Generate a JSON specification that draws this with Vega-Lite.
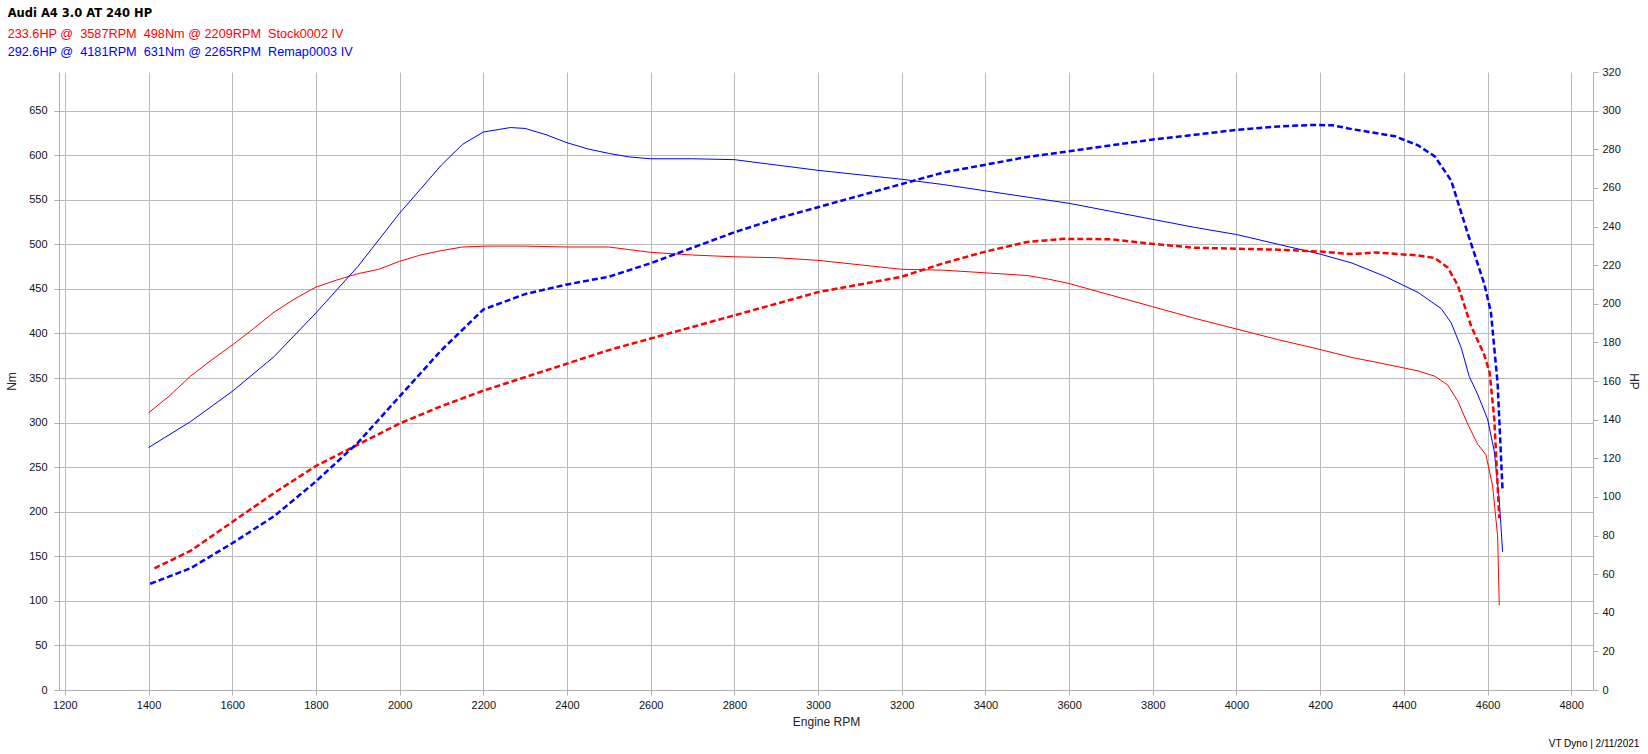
{
  "$schema": "https://vega.github.io/schema/vega-lite/v6.json",
  "background": "white",
  "padding": {"left": 5, "top": 8, "right": 5, "bottom": 5},
  "config": {
    "font": "Liberation Sans",
    "view": {"stroke": null},
    "axis": {
      "labelFont": "Liberation Sans", "labelFontSize": 11, "labelColor": "#111",
      "titleFont": "Liberation Sans", "titleFontSize": 12, "titleFontWeight": "normal", "titleColor": "#222",
      "gridColor": "#bababa", "domainColor": "#b0b0b0", "tickColor": "#b0b0b0", "tickSize": 5
    }
  },
  "datasets": {
    "torque": [
      {"rpm": 1400, "nm": 311, "run": "Stock0002 IV"},
      {"rpm": 1450, "nm": 330, "run": "Stock0002 IV"},
      {"rpm": 1500, "nm": 352, "run": "Stock0002 IV"},
      {"rpm": 1550, "nm": 370, "run": "Stock0002 IV"},
      {"rpm": 1600, "nm": 387, "run": "Stock0002 IV"},
      {"rpm": 1650, "nm": 405, "run": "Stock0002 IV"},
      {"rpm": 1700, "nm": 424, "run": "Stock0002 IV"},
      {"rpm": 1750, "nm": 439, "run": "Stock0002 IV"},
      {"rpm": 1800, "nm": 452, "run": "Stock0002 IV"},
      {"rpm": 1850, "nm": 460, "run": "Stock0002 IV"},
      {"rpm": 1900, "nm": 467, "run": "Stock0002 IV"},
      {"rpm": 1950, "nm": 472, "run": "Stock0002 IV"},
      {"rpm": 2000, "nm": 481, "run": "Stock0002 IV"},
      {"rpm": 2050, "nm": 488, "run": "Stock0002 IV"},
      {"rpm": 2100, "nm": 493, "run": "Stock0002 IV"},
      {"rpm": 2150, "nm": 497, "run": "Stock0002 IV"},
      {"rpm": 2209, "nm": 498, "run": "Stock0002 IV"},
      {"rpm": 2300, "nm": 498, "run": "Stock0002 IV"},
      {"rpm": 2400, "nm": 497, "run": "Stock0002 IV"},
      {"rpm": 2450, "nm": 497, "run": "Stock0002 IV"},
      {"rpm": 2500, "nm": 497, "run": "Stock0002 IV"},
      {"rpm": 2550, "nm": 494, "run": "Stock0002 IV"},
      {"rpm": 2600, "nm": 491, "run": "Stock0002 IV"},
      {"rpm": 2700, "nm": 488, "run": "Stock0002 IV"},
      {"rpm": 2800, "nm": 486, "run": "Stock0002 IV"},
      {"rpm": 2900, "nm": 485, "run": "Stock0002 IV"},
      {"rpm": 3000, "nm": 482, "run": "Stock0002 IV"},
      {"rpm": 3100, "nm": 477, "run": "Stock0002 IV"},
      {"rpm": 3200, "nm": 472, "run": "Stock0002 IV"},
      {"rpm": 3300, "nm": 471, "run": "Stock0002 IV"},
      {"rpm": 3400, "nm": 468, "run": "Stock0002 IV"},
      {"rpm": 3500, "nm": 465, "run": "Stock0002 IV"},
      {"rpm": 3550, "nm": 461, "run": "Stock0002 IV"},
      {"rpm": 3600, "nm": 456, "run": "Stock0002 IV"},
      {"rpm": 3700, "nm": 443, "run": "Stock0002 IV"},
      {"rpm": 3800, "nm": 430, "run": "Stock0002 IV"},
      {"rpm": 3900, "nm": 417, "run": "Stock0002 IV"},
      {"rpm": 4000, "nm": 405, "run": "Stock0002 IV"},
      {"rpm": 4100, "nm": 393, "run": "Stock0002 IV"},
      {"rpm": 4200, "nm": 382, "run": "Stock0002 IV"},
      {"rpm": 4276, "nm": 373, "run": "Stock0002 IV"},
      {"rpm": 4331, "nm": 368, "run": "Stock0002 IV"},
      {"rpm": 4434, "nm": 358, "run": "Stock0002 IV"},
      {"rpm": 4474, "nm": 352, "run": "Stock0002 IV"},
      {"rpm": 4505, "nm": 342, "run": "Stock0002 IV"},
      {"rpm": 4529, "nm": 324, "run": "Stock0002 IV"},
      {"rpm": 4553, "nm": 298, "run": "Stock0002 IV"},
      {"rpm": 4576, "nm": 276, "run": "Stock0002 IV"},
      {"rpm": 4596, "nm": 264, "run": "Stock0002 IV"},
      {"rpm": 4612, "nm": 229, "run": "Stock0002 IV"},
      {"rpm": 4624, "nm": 173, "run": "Stock0002 IV"},
      {"rpm": 4628, "nm": 95, "run": "Stock0002 IV"},
      {"rpm": 1400, "nm": 272, "run": "Remap0003 IV"},
      {"rpm": 1500, "nm": 301, "run": "Remap0003 IV"},
      {"rpm": 1600, "nm": 335, "run": "Remap0003 IV"},
      {"rpm": 1700, "nm": 374, "run": "Remap0003 IV"},
      {"rpm": 1800, "nm": 423, "run": "Remap0003 IV"},
      {"rpm": 1900, "nm": 475, "run": "Remap0003 IV"},
      {"rpm": 2000, "nm": 535, "run": "Remap0003 IV"},
      {"rpm": 2050, "nm": 562, "run": "Remap0003 IV"},
      {"rpm": 2100, "nm": 589, "run": "Remap0003 IV"},
      {"rpm": 2150, "nm": 612, "run": "Remap0003 IV"},
      {"rpm": 2200, "nm": 626, "run": "Remap0003 IV"},
      {"rpm": 2265, "nm": 631, "run": "Remap0003 IV"},
      {"rpm": 2300, "nm": 630, "run": "Remap0003 IV"},
      {"rpm": 2350, "nm": 623, "run": "Remap0003 IV"},
      {"rpm": 2400, "nm": 614, "run": "Remap0003 IV"},
      {"rpm": 2450, "nm": 607, "run": "Remap0003 IV"},
      {"rpm": 2500, "nm": 602, "run": "Remap0003 IV"},
      {"rpm": 2550, "nm": 598, "run": "Remap0003 IV"},
      {"rpm": 2600, "nm": 596, "run": "Remap0003 IV"},
      {"rpm": 2700, "nm": 596, "run": "Remap0003 IV"},
      {"rpm": 2800, "nm": 595, "run": "Remap0003 IV"},
      {"rpm": 2900, "nm": 589, "run": "Remap0003 IV"},
      {"rpm": 3000, "nm": 583, "run": "Remap0003 IV"},
      {"rpm": 3100, "nm": 578, "run": "Remap0003 IV"},
      {"rpm": 3200, "nm": 573, "run": "Remap0003 IV"},
      {"rpm": 3300, "nm": 567, "run": "Remap0003 IV"},
      {"rpm": 3400, "nm": 560, "run": "Remap0003 IV"},
      {"rpm": 3500, "nm": 553, "run": "Remap0003 IV"},
      {"rpm": 3600, "nm": 546, "run": "Remap0003 IV"},
      {"rpm": 3700, "nm": 537, "run": "Remap0003 IV"},
      {"rpm": 3800, "nm": 528, "run": "Remap0003 IV"},
      {"rpm": 3900, "nm": 519, "run": "Remap0003 IV"},
      {"rpm": 4000, "nm": 511, "run": "Remap0003 IV"},
      {"rpm": 4100, "nm": 500, "run": "Remap0003 IV"},
      {"rpm": 4200, "nm": 489, "run": "Remap0003 IV"},
      {"rpm": 4276, "nm": 479, "run": "Remap0003 IV"},
      {"rpm": 4355, "nm": 464, "run": "Remap0003 IV"},
      {"rpm": 4434, "nm": 446, "run": "Remap0003 IV"},
      {"rpm": 4489, "nm": 428, "run": "Remap0003 IV"},
      {"rpm": 4513, "nm": 412, "run": "Remap0003 IV"},
      {"rpm": 4537, "nm": 384, "run": "Remap0003 IV"},
      {"rpm": 4556, "nm": 352, "run": "Remap0003 IV"},
      {"rpm": 4576, "nm": 332, "run": "Remap0003 IV"},
      {"rpm": 4600, "nm": 304, "run": "Remap0003 IV"},
      {"rpm": 4616, "nm": 268, "run": "Remap0003 IV"},
      {"rpm": 4628, "nm": 213, "run": "Remap0003 IV"},
      {"rpm": 4636, "nm": 155, "run": "Remap0003 IV"}
    ],
    "power": [
      {"rpm": 1414, "hp": 63, "run": "Stock0002 IV"},
      {"rpm": 1500, "hp": 72, "run": "Stock0002 IV"},
      {"rpm": 1600, "hp": 87, "run": "Stock0002 IV"},
      {"rpm": 1700, "hp": 102, "run": "Stock0002 IV"},
      {"rpm": 1800, "hp": 116, "run": "Stock0002 IV"},
      {"rpm": 1900, "hp": 127, "run": "Stock0002 IV"},
      {"rpm": 2000, "hp": 138, "run": "Stock0002 IV"},
      {"rpm": 2100, "hp": 147, "run": "Stock0002 IV"},
      {"rpm": 2200, "hp": 155, "run": "Stock0002 IV"},
      {"rpm": 2300, "hp": 162, "run": "Stock0002 IV"},
      {"rpm": 2400, "hp": 169, "run": "Stock0002 IV"},
      {"rpm": 2500, "hp": 176, "run": "Stock0002 IV"},
      {"rpm": 2600, "hp": 182, "run": "Stock0002 IV"},
      {"rpm": 2700, "hp": 188, "run": "Stock0002 IV"},
      {"rpm": 2800, "hp": 194, "run": "Stock0002 IV"},
      {"rpm": 2900, "hp": 200, "run": "Stock0002 IV"},
      {"rpm": 3000, "hp": 206, "run": "Stock0002 IV"},
      {"rpm": 3100, "hp": 210, "run": "Stock0002 IV"},
      {"rpm": 3200, "hp": 214, "run": "Stock0002 IV"},
      {"rpm": 3300, "hp": 221, "run": "Stock0002 IV"},
      {"rpm": 3400, "hp": 227, "run": "Stock0002 IV"},
      {"rpm": 3500, "hp": 232, "run": "Stock0002 IV"},
      {"rpm": 3587, "hp": 233.6, "run": "Stock0002 IV"},
      {"rpm": 3700, "hp": 233.4, "run": "Stock0002 IV"},
      {"rpm": 3800, "hp": 231, "run": "Stock0002 IV"},
      {"rpm": 3900, "hp": 229, "run": "Stock0002 IV"},
      {"rpm": 4000, "hp": 228.5, "run": "Stock0002 IV"},
      {"rpm": 4100, "hp": 228, "run": "Stock0002 IV"},
      {"rpm": 4200, "hp": 227, "run": "Stock0002 IV"},
      {"rpm": 4276, "hp": 225.7, "run": "Stock0002 IV"},
      {"rpm": 4331, "hp": 226.6, "run": "Stock0002 IV"},
      {"rpm": 4434, "hp": 225, "run": "Stock0002 IV"},
      {"rpm": 4474, "hp": 223.7, "run": "Stock0002 IV"},
      {"rpm": 4505, "hp": 218.7, "run": "Stock0002 IV"},
      {"rpm": 4529, "hp": 209.5, "run": "Stock0002 IV"},
      {"rpm": 4561, "hp": 188.3, "run": "Stock0002 IV"},
      {"rpm": 4592, "hp": 173.6, "run": "Stock0002 IV"},
      {"rpm": 4605, "hp": 164.4, "run": "Stock0002 IV"},
      {"rpm": 4616, "hp": 140.5, "run": "Stock0002 IV"},
      {"rpm": 4628, "hp": 89, "run": "Stock0002 IV"},
      {"rpm": 1404, "hp": 55, "run": "Remap0003 IV"},
      {"rpm": 1500, "hp": 63, "run": "Remap0003 IV"},
      {"rpm": 1600, "hp": 76, "run": "Remap0003 IV"},
      {"rpm": 1700, "hp": 90, "run": "Remap0003 IV"},
      {"rpm": 1800, "hp": 108, "run": "Remap0003 IV"},
      {"rpm": 1900, "hp": 128, "run": "Remap0003 IV"},
      {"rpm": 2000, "hp": 152, "run": "Remap0003 IV"},
      {"rpm": 2100, "hp": 176, "run": "Remap0003 IV"},
      {"rpm": 2200, "hp": 197, "run": "Remap0003 IV"},
      {"rpm": 2300, "hp": 205, "run": "Remap0003 IV"},
      {"rpm": 2400, "hp": 210, "run": "Remap0003 IV"},
      {"rpm": 2500, "hp": 214, "run": "Remap0003 IV"},
      {"rpm": 2600, "hp": 221, "run": "Remap0003 IV"},
      {"rpm": 2700, "hp": 229, "run": "Remap0003 IV"},
      {"rpm": 2800, "hp": 237, "run": "Remap0003 IV"},
      {"rpm": 2900, "hp": 244, "run": "Remap0003 IV"},
      {"rpm": 3000, "hp": 250, "run": "Remap0003 IV"},
      {"rpm": 3100, "hp": 256, "run": "Remap0003 IV"},
      {"rpm": 3200, "hp": 262, "run": "Remap0003 IV"},
      {"rpm": 3300, "hp": 268, "run": "Remap0003 IV"},
      {"rpm": 3400, "hp": 272, "run": "Remap0003 IV"},
      {"rpm": 3500, "hp": 276, "run": "Remap0003 IV"},
      {"rpm": 3600, "hp": 279, "run": "Remap0003 IV"},
      {"rpm": 3700, "hp": 282, "run": "Remap0003 IV"},
      {"rpm": 3800, "hp": 285, "run": "Remap0003 IV"},
      {"rpm": 3900, "hp": 287.5, "run": "Remap0003 IV"},
      {"rpm": 4000, "hp": 290, "run": "Remap0003 IV"},
      {"rpm": 4100, "hp": 291.8, "run": "Remap0003 IV"},
      {"rpm": 4181, "hp": 292.6, "run": "Remap0003 IV"},
      {"rpm": 4230, "hp": 292.4, "run": "Remap0003 IV"},
      {"rpm": 4276, "hp": 290.4, "run": "Remap0003 IV"},
      {"rpm": 4379, "hp": 286.7, "run": "Remap0003 IV"},
      {"rpm": 4434, "hp": 282, "run": "Remap0003 IV"},
      {"rpm": 4474, "hp": 276.3, "run": "Remap0003 IV"},
      {"rpm": 4513, "hp": 263.8, "run": "Remap0003 IV"},
      {"rpm": 4553, "hp": 236.2, "run": "Remap0003 IV"},
      {"rpm": 4592, "hp": 210.4, "run": "Remap0003 IV"},
      {"rpm": 4608, "hp": 195.7, "run": "Remap0003 IV"},
      {"rpm": 4624, "hp": 158.9, "run": "Remap0003 IV"},
      {"rpm": 4636, "hp": 102.8, "run": "Remap0003 IV"}
    ]
  },
  "title": {
    "text": "Audi A4 3.0 AT 240 HP",
    "subtitle": "233.6HP @\u00a0 3587RPM\u00a0 498Nm @ 2209RPM\u00a0 Stock0002 IV",
    "anchor": "start", "frame": "bounds",
    "font": "DejaVu Sans", "fontSize": 11.5, "fontWeight": "bold", "color": "#000000",
    "subtitleFont": "Liberation Sans", "subtitleFontSize": 12.7, "subtitleColor": "#ff0000",
    "subtitlePadding": 8, "offset": 6, "dx": 2
  },
  "vconcat": [
    {
      "title": {"text": "VT Dyno | 2/11/2021", "orient": "bottom", "anchor": "end", "font": "Liberation Sans", "fontSize": 10, "fontWeight": "normal", "color": "#000000", "offset": 12},
      "vconcat": [
        {
          "title": {"text": "292.6HP @\u00a0 4181RPM\u00a0 631Nm @ 2265RPM\u00a0 Remap0003 IV", "anchor": "start", "frame": "bounds", "font": "Liberation Sans", "fontSize": 12.7, "fontWeight": "normal", "color": "#0000ff", "offset": 7, "dx": 2},
          "width": 1534,
          "height": 618,
          "encoding": {
            "x": {
              "field": "rpm", "type": "quantitative",
              "scale": {"domain": [1186, 4852], "nice": false, "zero": false},
              "axis": {"values": [1200, 1400, 1600, 1800, 2000, 2200, 2400, 2600, 2800, 3000, 3200, 3400, 3600, 3800, 4000, 4200, 4400, 4600, 4800], "format": "d", "title": "Engine RPM", "grid": true, "labelPadding": 4, "titlePadding": 6}
            },
            "color": {
              "field": "run", "type": "nominal",
              "scale": {"domain": ["Stock0002 IV", "Remap0003 IV"], "range": ["#ff0000", "#0000ff"]},
              "legend": null
            }
          },
          "layer": [
            {
              "data": {"name": "torque"},
              "mark": {"type": "line", "strokeWidth": 1},
              "encoding": {
                "y": {
                  "field": "nm", "type": "quantitative",
                  "scale": {"domain": [0, 693.33], "nice": false},
                  "axis": {"orient": "left", "title": "Nm", "grid": true, "values": [0, 50, 100, 150, 200, 250, 300, 350, 400, 450, 500, 550, 600, 650], "labelPadding": 7, "titlePadding": 10}
                }
              }
            },
            {
              "data": {"name": "power"},
              "mark": {"type": "line", "strokeWidth": 2.5, "strokeDash": [6, 3]},
              "encoding": {
                "y": {
                  "field": "hp", "type": "quantitative",
                  "scale": {"domain": [0, 320], "nice": false},
                  "axis": {"orient": "right", "title": "HP", "grid": false, "values": [0, 20, 40, 60, 80, 100, 120, 140, 160, 180, 200, 220, 240, 260, 280, 300, 320], "labelPadding": 4, "titlePadding": 6}
                }
              }
            }
          ],
          "resolve": {"scale": {"y": "independent"}}
        }
      ]
    }
  ]
}
